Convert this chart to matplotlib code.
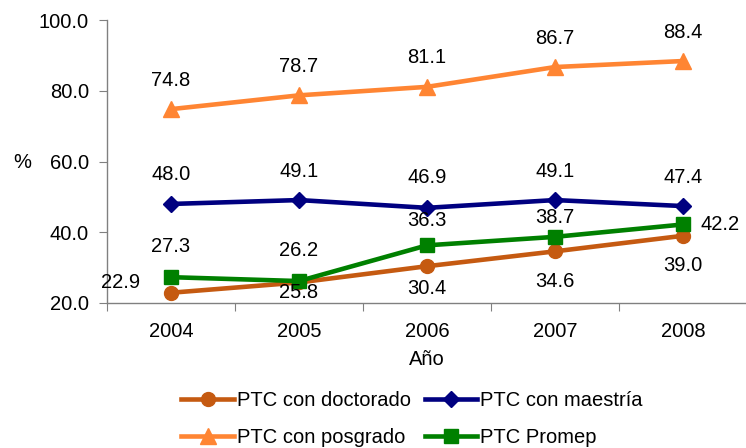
import matplotlib
matplotlib.use("Agg")
import matplotlib.pyplot as plt
from matplotlib.lines import Line2D

plt.rcParams['font.family'] = ['Liberation Sans', 'DejaVu Sans']

years = ["2004", "2005", "2006", "2007", "2008"]
doctorado = [22.9, 25.8, 30.4, 34.6, 39.0]
maestria = [48.0, 49.1, 46.9, 49.1, 47.4]
posgrado = [74.8, 78.7, 81.1, 86.7, 88.4]
promep = [27.3, 26.2, 36.3, 38.7, 42.2]
y_ticks = [20.0, 40.0, 60.0, 80.0, 100.0]

c_doc = "#C55A11"
c_mae = "#000080"
c_pos = "#FF8533"
c_pro = "#008000"

fig = plt.figure(figsize=(7.46, 4.48), dpi=100)
ax = fig.add_axes([107 / 746, 1 - 303 / 448, 640 / 746, 283 / 448])

x = list(range(len(years)))
lw = 3.3
ax.plot(x, doctorado, color=c_doc, lw=lw, marker="o", ms=10, zorder=3)
ax.plot(x, maestria, color=c_mae, lw=lw, marker="D", ms=8, zorder=3)
ax.plot(x, posgrado, color=c_pos, lw=lw, marker="^", ms=11, zorder=3)
ax.plot(x, promep, color=c_pro, lw=lw, marker="s", ms=10, zorder=3)

fs = 14.5
def lab(xi, yi, dx, dy, ha="center", va="center"):
    ax.annotate(f"{yi:.1f}", (xi, yi), xytext=(dx, dy), textcoords="offset pixels",
                ha=ha, va=va, fontsize=fs, color="#000000")

# data labels: offsets in pixels for each series
pos_dy = [29, 29, 29, 29, 29]
mae_dy = [29, 29, 30, 29, 29]
pro_dy = [31, 31, 25, 19]
doc_dy = [-10, -22, -30, -30]
for i in x:
    lab(i, posgrado[i], 0, pos_dy[i])
    lab(i, maestria[i], 0, mae_dy[i])
for i in range(4):
    lab(i, promep[i], 0, pro_dy[i])
lab(4, promep[4], 17, 0, ha="left")
lab(0, doctorado[0], -31, 10, ha="right")
for i in range(1, 5):
    lab(i, doctorado[i], 0, doc_dy[i - 1])

ax.set_xlim(-0.5, 4.5)
ax.set_ylim(20, 100)
ax.set_yticks(y_ticks)
ax.set_yticklabels([f"{v:.1f}" for v in y_ticks], fontsize=fs)
ax.set_xticks([i - 0.5 for i in range(6)], minor=False)
ax.set_xticklabels([])
ax.set_xticks(x, minor=True)
ax.set_xticklabels(years, minor=True, fontsize=fs)
ax.tick_params(axis="x", which="minor", length=0, pad=14)
ax.tick_params(axis="x", which="major", length=6, color="#808080", direction="out")
ax.tick_params(axis="y", length=6, color="#808080", direction="out", pad=7)
for s in ["top", "right"]:
    ax.spines[s].set_visible(False)
for s in ["left", "bottom"]:
    ax.spines[s].set_color("#808080")
    ax.spines[s].set_linewidth(1.0)

ax.set_xlabel("Año", fontsize=fs, labelpad=6)
fig.text(22 / 746, 1 - 163 / 448, "%", fontsize=fs, ha="center", va="center")

handles = [
    Line2D([], [], color=c_doc, lw=lw, marker="o", ms=10),
    Line2D([], [], color=c_pos, lw=lw, marker="^", ms=11),
    Line2D([], [], color=c_mae, lw=lw, marker="D", ms=8),
    Line2D([], [], color=c_pro, lw=lw, marker="s", ms=10),
]
labels = ["PTC con doctorado", "PTC con posgrado", "PTC con maestría", "PTC Promep"]
fig.legend(handles, labels, ncol=2, loc="center", bbox_to_anchor=(412 / 746, 1 - 419 / 448),
           frameon=False, fontsize=fs, handlelength=2.6, handletextpad=0.15,
           columnspacing=0.7, labelspacing=0.85, borderpad=0, borderaxespad=0)

fig.savefig("out.png", dpi=100)
